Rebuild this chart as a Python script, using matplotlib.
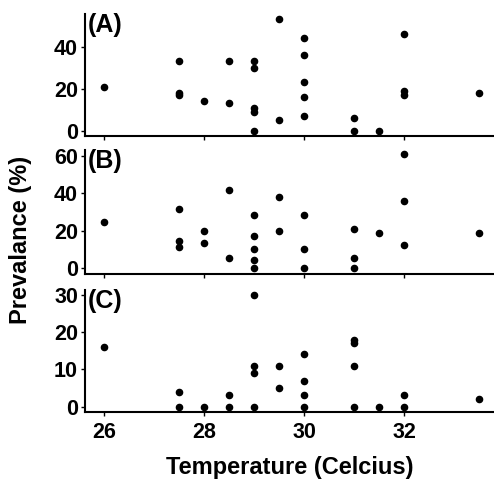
import matplotlib
matplotlib.use('Agg')
import matplotlib.pyplot as plt

plt.rcParams['font.family'] = ['Liberation Sans', 'DejaVu Sans']
plt.rcParams['font.weight'] = 'bold'

# temperature (x) and prevalence (y) per panel
temp_a = [26, 27.5, 27.5, 27.5, 28, 28.5, 28.5, 29, 29, 29, 29, 29, 29.5, 29.5,
          30, 30, 30, 30, 30, 31, 31, 31.5, 32, 32, 32, 33.5]
prev_a = [21, 33, 18, 17, 14, 33, 13, 33, 30, 10.6, 9, 0, 53, 5,
          44, 36, 23, 16, 7, 6, 0, 0, 46, 19, 17, 18]

temp_b = [26, 27.5, 27.5, 27.5, 28, 28, 28.5, 28.5, 29, 29, 29, 29, 29,
          29.5, 29.5, 30, 30, 30, 31, 31, 31, 31.5, 32, 32, 32, 33.5]
prev_b = [24.5, 31.5, 14.3, 11.4, 20, 13.2, 42, 5.5, 28.4, 17, 10.4, 4.6, 0,
          38, 20, 28.6, 10.4, 0, 21, 5.5, 0, 19, 61, 36, 12.3, 19]

temp_c = [26, 27.5, 27.5, 28, 28.5, 28.5, 29, 29, 29, 29, 29.5, 29.5,
          30, 30, 30, 30, 31, 31, 31, 31, 31.5, 32, 32, 33.5]
prev_c = [16, 4, 0, 0, 3, 0, 30, 11, 9, 0, 11, 5,
          14, 7, 3, 0, 18, 17, 11, 0, 0, 3, 0, 2]

panels = [
    ('(A)', temp_a, prev_a, [0, 20, 40], (-2.4, 55.5)),
    ('(B)', temp_b, prev_b, [0, 20, 40, 60], (-3.2, 63.2)),
    ('(C)', temp_c, prev_c, [0, 10, 20, 30], (-1.4, 31.3)),
]
x_ticks = [26, 28, 30, 32]

fig = plt.figure(figsize=(4.94, 4.8), dpi=100)
boxes = [(0.172, 0.717, 0.828, 0.254),
         (0.172, 0.429, 0.828, 0.2585),
         (0.172, 0.142, 0.828, 0.254)]

for (label, xs, ys, yt, ylim), box in zip(panels, boxes):
    ax = fig.add_axes(box)
    ax.scatter(xs, ys, s=20, color='black', zorder=3)
    ax.set_xlim(25.614, 33.79)
    ax.set_ylim(*ylim)
    ax.set_yticks(yt)
    ax.set_xticks(x_ticks)
    for side in ['top', 'right']:
        ax.spines[side].set_visible(False)
    for side in ['left', 'bottom']:
        ax.spines[side].set_linewidth(1.5)
    ax.tick_params(axis='both', length=3, width=1, labelsize=15.5, pad=2)
    ax.tick_params(axis='x', pad=4)
    ax.text(0.006, 1.01, label, transform=ax.transAxes, va='top', ha='left',
            fontsize=18, fontweight='bold')
    if label != '(C)':
        ax.tick_params(axis='x', labelbottom=False)
    else:
        ax.set_xlabel('Temperature (Celcius)', fontsize=17, fontweight='bold', labelpad=10)

fig.text(0.042, 0.5, 'Prevalance (%)', rotation=90, va='center', ha='center',
         fontsize=17, fontweight='bold')

fig.savefig('out.png', dpi=100)
